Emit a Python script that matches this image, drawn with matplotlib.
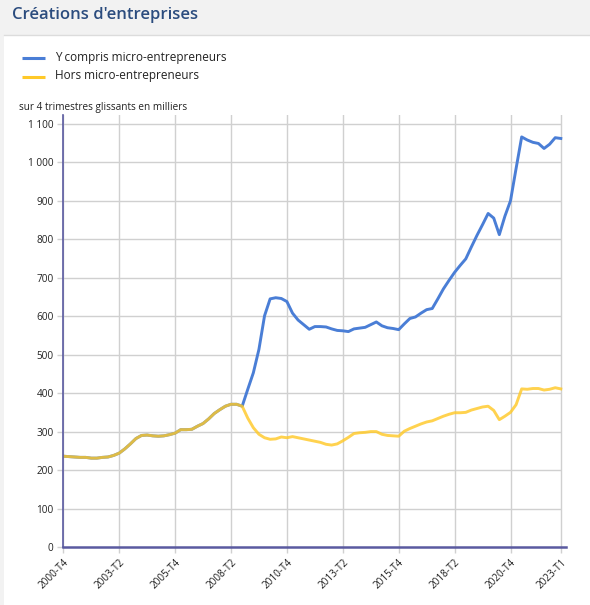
import matplotlib
matplotlib.use("Agg")
import matplotlib.pyplot as plt
from matplotlib.patches import Rectangle
from matplotlib.lines import Line2D

# ---- data ----
tick_labels = ["2000-T4", "2003-T2", "2005-T4", "2008-T2", "2010-T4",
               "2013-T2", "2015-T4", "2018-T2", "2020-T4", "2023-T1"]
tick_positions = [0, 10, 20, 30, 40, 50, 60, 70, 80, 89]

common = [236, 235, 234, 233, 233, 231, 231, 233, 234, 238,
          244, 255, 268, 282, 290, 291, 289, 288, 289, 292,
          296, 305, 305, 306, 314, 321, 333, 347, 357, 366,
          371, 371, 366]

hors_micro = common + [
    335, 310, 293, 284, 280, 281, 286,
    284, 287, 284, 281, 278, 275, 272, 267, 265, 268,
    276, 285, 295, 297, 298, 300, 300, 293, 290, 289,
    288, 301, 308, 314, 320, 325, 328, 334, 340, 345,
    349, 349, 350, 356, 360, 364, 366, 355, 331, 340,
    350, 370, 411, 410, 412, 412, 408, 410, 414, 411]

y_compris = common + [
    410, 453, 514, 601, 645, 648, 646,
    638, 608, 590, 578, 566, 573, 573, 572, 567, 563,
    562, 560, 567, 569, 571, 578, 585, 575, 570, 568,
    565, 580, 594, 598, 608, 617, 620, 645, 671, 693,
    714, 732, 749, 780, 810, 838, 867, 855, 812, 860,
    900, 984, 1066, 1058, 1052, 1049, 1036, 1047, 1064, 1062]

y_ticks = [0, 100, 200, 300, 400, 500, 600, 700, 800, 900, 1000, 1100]
y_tick_labels = [f"{v:,}".replace(",", " ") for v in y_ticks]

series_names = ["Y compris micro-entrepreneurs", "Hors micro-entrepreneurs"]
title = "Créations d'entreprises"
ylabel = "sur 4 trimestres glissants en milliers"

BLUE = "#4A7ED6"
YELLOW = "#FFC928"
AXIS = "#5A5AA0"
GRID = "#D0D0D0"
FONT = ["Open Sans", "DejaVu Sans"]

W, H = 590, 605
fig = plt.figure(figsize=(W / 100, H / 100), dpi=100)
fig.patch.set_facecolor("#F2F2F2")

def px(x, y):
    return x / W, 1 - y / H

# white panel
fig.add_artist(Rectangle(px(4, 605), (W - 4) / W, (605 - 35) / H,
                         transform=fig.transFigure, facecolor="white",
                         edgecolor="none", zorder=0))
fig.add_artist(Line2D([4 / W, 1], [1 - 35 / H] * 2, transform=fig.transFigure,
                      color="#DCDCDC", lw=1, zorder=1))

fig.text(*px(12, 15), title, fontsize=12, fontweight="semibold",
         color="#2B4C7E", family=FONT, va="center", ha="left")

# legend
for i, (name, col) in enumerate(zip(series_names, [BLUE, YELLOW])):
    yy = 58 + i * 19
    fig.add_artist(Line2D([22 / W, 45 / W], [1 - yy / H] * 2,
                          transform=fig.transFigure, color=col, lw=2.2,
                          solid_capstyle="butt"))
    fig.text(*px(55, yy - 1), name, fontsize=8.5, color="#222222",
             family=FONT, va="center", ha="left")

fig.text(*px(19, 108), ylabel, fontsize=7.2, color="#222222",
         family=FONT, va="center", ha="left")

# axes
left, right = 63.3, 566.4
top, bottom = 115, 547
ax = fig.add_axes([left / W, 1 - bottom / H, (right - left) / W, (bottom - top) / H])
ax.set_facecolor("none")

x = list(range(len(y_compris)))
ax.plot(x, y_compris, color=BLUE, lw=2.1, zorder=3, solid_joinstyle="round")
ax.plot(x, hors_micro, color=YELLOW, lw=2.1, zorder=4, alpha=0.82,
        solid_joinstyle="round")

ax.set_xlim(0, 90)
ax.set_ylim(0, 1123)
ax.set_xticks(tick_positions)
ax.set_xticklabels(tick_labels, rotation=45, ha="right", rotation_mode="anchor",
                   fontsize=7.2, family=FONT, color="#222222")
ax.set_yticks(y_ticks)
ax.set_yticklabels(y_tick_labels, fontsize=7.2, family=FONT, color="#222222")

for p in tick_positions:
    ax.axvline(p, color=GRID, lw=1, zorder=1)
ax.hlines(y_ticks[1:], 0, tick_positions[-1], color=GRID, lw=1, zorder=1)

for s in ["top", "right"]:
    ax.spines[s].set_visible(False)
ax.spines["left"].set_color(AXIS)
ax.spines["left"].set_linewidth(1.2)
ax.spines["bottom"].set_color(AXIS)
ax.spines["bottom"].set_linewidth(1.8)
ax.spines["left"].set_zorder(5)
ax.spines["bottom"].set_zorder(5)
ax.tick_params(axis="both", length=4, width=1, color=GRID, pad=3)

fig.savefig("out.png", dpi=100, facecolor=fig.get_facecolor())
